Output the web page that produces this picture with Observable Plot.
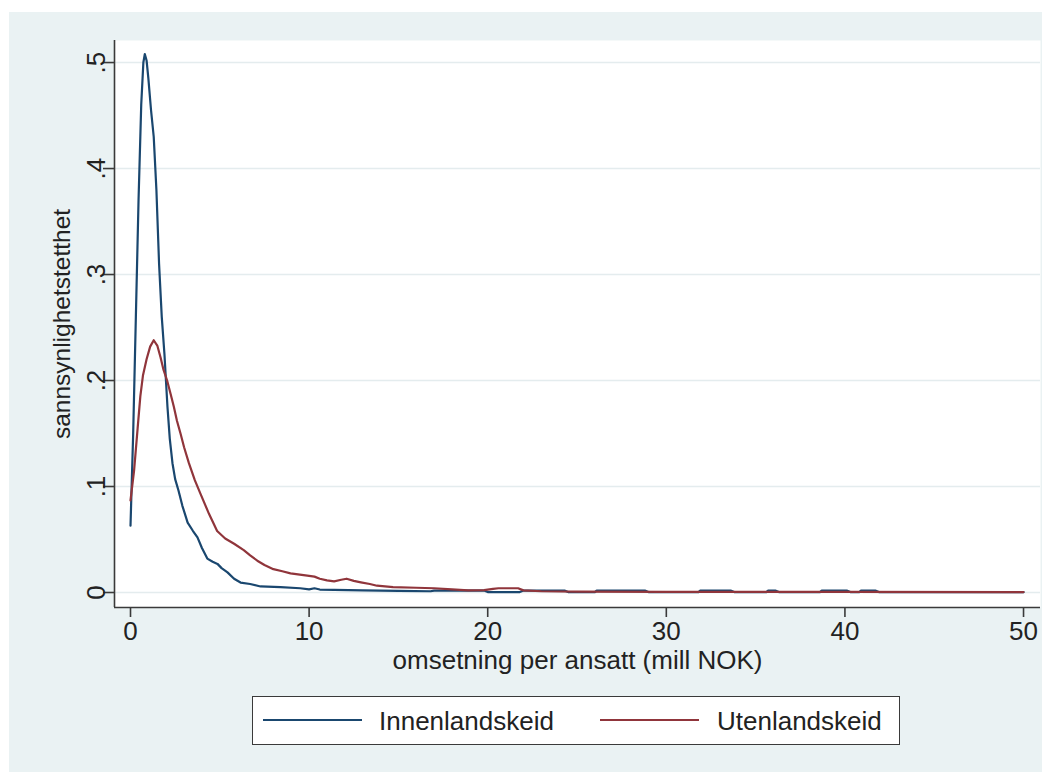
<!DOCTYPE html>
<html><head><meta charset="utf-8">
<script src="https://cdn.jsdelivr.net/npm/d3@7"></script>
<script src="https://cdn.jsdelivr.net/npm/@observablehq/plot@0.6"></script>
<style>
html,body{margin:0;padding:0;background:#fff;}
body{font-family:"Liberation Sans",Arial,sans-serif;width:1052px;height:772px;overflow:hidden;position:relative;}
#bg{position:absolute;left:9px;top:12px;width:1033px;height:760px;background:#eaf2f3;}
#chart{position:absolute;left:0;top:0;}
#legend{position:absolute;left:243px;top:684px;width:648px;height:49px;border:1.5px solid #3a3a3a;background:#fff;box-sizing:border-box;}
.sw{position:absolute;height:2px;top:22px;width:99px;}
.lt{position:absolute;top:11px;font-size:26px;line-height:26px;color:#222;white-space:nowrap;}
</style></head><body>
<div id="bg"><div id="chart"></div>
<div id="legend"></div></div>
<script>
// ---- data ----
const seriesNames = ["Innenlandskeid", "Utenlandskeid"];
const seriesColors = ["#1a476f", "#90353b"];
const xTicks = [0, 10, 20, 30, 40, 50];
const yTicks = [0, 0.1, 0.2, 0.3, 0.4, 0.5];
const yTickLabels = ["0", ".1", ".2", ".3", ".4", ".5"];
const xLabel = "omsetning per ansatt (mill NOK)";
const yLabel = "sannsynlighetstetthet";

const innenX = [0, 0.15, 0.3, 0.45, 0.6, 0.72, 0.8, 0.9, 1.0, 1.15, 1.3, 1.45, 1.6, 1.75, 1.9, 2.07, 2.2, 2.35, 2.5, 2.69, 2.9, 3.2, 3.5, 3.75, 4.0, 4.3, 4.6, 4.87, 5.1, 5.43, 5.8, 6.16, 6.7, 7.28, 8.4, 9.5, 10.0, 10.3, 10.6, 11.4, 13, 15, 16.8, 17.0, 17.3, 18, 19.8, 20.0, 21.8, 22.0, 24.3, 24.5, 26.0, 26.1, 28.8, 29.0, 31.8, 31.9, 33.6, 33.8, 35.6, 35.7, 36.1, 36.3, 38.6, 38.7, 40.1, 40.3, 40.8, 40.9, 41.7, 41.9, 50];
const innenY = [0.063, 0.15, 0.26, 0.37, 0.46, 0.5, 0.508, 0.502, 0.485, 0.455, 0.43, 0.38, 0.31, 0.26, 0.225, 0.175, 0.145, 0.122, 0.107, 0.096, 0.082, 0.066, 0.058, 0.052, 0.042, 0.032, 0.029, 0.027, 0.023, 0.019, 0.013, 0.0094, 0.008, 0.0057, 0.005, 0.004, 0.003, 0.004, 0.0028, 0.0025, 0.002, 0.0015, 0.0012, 0.0018, 0.0018, 0.0018, 0.0018, 0.0004, 0.0004, 0.0018, 0.0018, 0.0004, 0.0004, 0.0018, 0.0018, 0.0004, 0.0004, 0.0018, 0.0018, 0.0004, 0.0004, 0.0018, 0.0018, 0.0004, 0.0004, 0.0018, 0.0018, 0.0004, 0.0004, 0.0018, 0.0018, 0.0004, 0.0003];

const utenX = [0, 0.2, 0.4, 0.55, 0.7, 0.9, 1.1, 1.3, 1.5, 1.68, 1.85, 2.05, 2.25, 2.43, 2.6, 2.8, 3.0, 3.27, 3.6, 3.92, 4.4, 4.85, 5.3, 5.8, 6.34, 6.7, 7.1, 7.5, 8.0, 8.5, 8.96, 9.9, 10.3, 10.6, 11.0, 11.4, 11.8, 12.1, 12.5, 12.9, 13.4, 13.8, 14.7, 16, 17, 18, 18.9, 19.8, 20.3, 20.6, 21.7, 22.0, 23, 25, 30, 40, 50];
const utenY = [0.087, 0.115, 0.155, 0.185, 0.205, 0.22, 0.232, 0.238, 0.233, 0.222, 0.21, 0.2, 0.187, 0.175, 0.162, 0.15, 0.137, 0.122, 0.106, 0.093, 0.074, 0.058, 0.051, 0.046, 0.04, 0.035, 0.03, 0.026, 0.022, 0.02, 0.018, 0.016, 0.015, 0.013, 0.0115, 0.0105, 0.012, 0.013, 0.011, 0.0096, 0.008, 0.0064, 0.005, 0.0045, 0.004, 0.003, 0.002, 0.0022, 0.0035, 0.004, 0.004, 0.002, 0.0012, 0.0008, 0.0006, 0.0005, 0.0004];

// ---- build table ----
const rows = [
  ...innenX.map((x, i) => ({x, y: innenY[i], s: seriesNames[0]})),
  ...utenX.map((x, i) => ({x, y: utenY[i], s: seriesNames[1]}))
];

const xDomain = [-0.896, 50.95];
const yDomain = [-0.01415, 0.5208];
const axisColor = "#3a3a3a";

const chart = Plot.plot({
  width: 1033,
  height: 668,
  marginLeft: 105,
  marginRight: 2,
  marginTop: 28,
  marginBottom: 73,
  style: {background: "transparent", fontFamily: "'Liberation Sans', Arial, sans-serif", color: "#222"},
  x: {domain: xDomain, ticks: xTicks},
  y: {domain: yDomain, ticks: yTicks},
  color: {domain: seriesNames, range: seriesColors},
  marks: [
    Plot.frame({fill: "white", stroke: "none"}),
    Plot.ruleY(yTicks, {stroke: "#e4ecee", strokeWidth: 1.5}),
    Plot.line(rows, {x: "x", y: "y", z: "s", stroke: "s", strokeWidth: 2.2, curve: "linear"}),
    Plot.ruleX([xDomain[0]], {stroke: axisColor, strokeWidth: 1.6}),
    Plot.ruleY([yDomain[0]], {stroke: axisColor, strokeWidth: 1.6}),
    Plot.axisX({ticks: xTicks, tickSize: 10, tickPadding: 4, fontSize: 26, label: null, stroke: axisColor, strokeWidth: 1.6, fill: "#222"}),
    Plot.axisY({ticks: yTicks, tickSize: 11, tickFormat: () => "", label: null, stroke: axisColor, strokeWidth: 1.6}),
    Plot.text(yTicks, {y: d => d, text: (d, i) => yTickLabels[i], frameAnchor: "left", textAnchor: "middle", dx: -18, rotate: -90, fontSize: 26, fill: "#222"}),
    Plot.text([yLabel], {text: d => d, frameAnchor: "left", textAnchor: "middle", dx: -52, rotate: -90, fontSize: 24.5, fill: "#222"}),
    Plot.text([xLabel], {text: d => d, frameAnchor: "bottom", dy: 61, fontSize: 26, fill: "#222"})
  ]
});
document.getElementById("chart").appendChild(chart);

// ---- legend ----
const legend = document.getElementById("legend");
const swLeft = [10, 347];
const txLeft = [126, 464];
seriesNames.forEach((name, i) => {
  const sw = document.createElement("div");
  sw.className = "sw";
  sw.style.left = swLeft[i] + "px";
  sw.style.background = seriesColors[i];
  legend.appendChild(sw);
  const t = document.createElement("div");
  t.className = "lt";
  t.style.left = txLeft[i] + "px";
  t.textContent = name;
  legend.appendChild(t);
});
</script>
</body></html>
